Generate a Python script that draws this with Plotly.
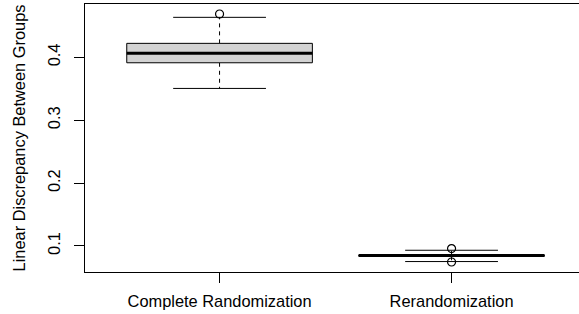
import plotly.graph_objects as go

categories = ["Complete Randomization", "Rerandomization"]
q1 = [0.3914, 0.0836]
median = [0.4064, 0.0847]
q3 = [0.4223, 0.0858]
lower_whisker = [0.3506, 0.0752]
upper_whisker = [0.4637, 0.0932]
outliers = [[0.469], [0.0959, 0.0745]]

BOX_HALF = 0.4
CAP_HALF = 0.2
FONT = "Liberation Sans, Arial, Helvetica, sans-serif"

fig = go.Figure()
for i, cat in enumerate(categories):
    x = i + 1
    # whiskers (dashed)
    fig.add_trace(go.Scatter(x=[x, x, None, x, x], y=[q3[i], upper_whisker[i], None, q1[i], lower_whisker[i]],
                             mode="lines", line=dict(color="black", width=1, dash="4px,4px"),
                             hoverinfo="skip", showlegend=False))
    # staples
    fig.add_trace(go.Scatter(x=[x - CAP_HALF, x + CAP_HALF, None, x - CAP_HALF, x + CAP_HALF],
                             y=[upper_whisker[i], upper_whisker[i], None, lower_whisker[i], lower_whisker[i]],
                             mode="lines", line=dict(color="black", width=1),
                             hoverinfo="skip", showlegend=False))
    # box
    fig.add_trace(go.Scatter(x=[x - BOX_HALF, x + BOX_HALF, x + BOX_HALF, x - BOX_HALF, x - BOX_HALF],
                             y=[q1[i], q1[i], q3[i], q3[i], q1[i]],
                             mode="lines", fill="toself", fillcolor="#d3d3d3",
                             line=dict(color="black", width=1),
                             hoverinfo="skip", showlegend=False))
    # median
    fig.add_trace(go.Scatter(x=[x - BOX_HALF, x + BOX_HALF], y=[median[i], median[i]],
                             mode="lines", line=dict(color="black", width=3),
                             hoverinfo="skip", showlegend=False))
    # outliers
    fig.add_trace(go.Scatter(x=[x] * len(outliers[i]), y=outliers[i], mode="markers",
                             marker=dict(symbol="circle-open", size=8, color="black", line=dict(width=1.2)),
                             hoverinfo="skip", showlegend=False))

fig.update_layout(
    width=579, height=314,
    margin=dict(l=85, r=0, t=4, b=42),
    paper_bgcolor="white", plot_bgcolor="white",
    font=dict(family=FONT, size=16.4, color="black"),
    xaxis=dict(range=[0.42, 0.42 + 494 / 232], tickvals=[1, 2], ticktext=categories,
               ticks="outside", ticklen=10, tickcolor="black", showline=True, linecolor="black",
               linewidth=1, mirror=True, showgrid=False, zeroline=False, ticklabelstandoff=4),
    yaxis=dict(range=[0.0586, 0.4849], tickvals=[0.1, 0.2, 0.3, 0.4], ticktext=["0.1", "0.2", "0.3", "0.4"],
               tickangle=-90, ticks="outside", ticklen=10, tickcolor="black", showline=True,
               linecolor="black", linewidth=1, mirror=False, showgrid=False, zeroline=False,
               ticklabelstandoff=7,
               title=dict(text="Linear Discrepancy Between Groups", font=dict(size=16.4))),
)

fig.write_html("out.html", config={"displayModeBar": False},
               post_script="document.body.style.margin='0';")
